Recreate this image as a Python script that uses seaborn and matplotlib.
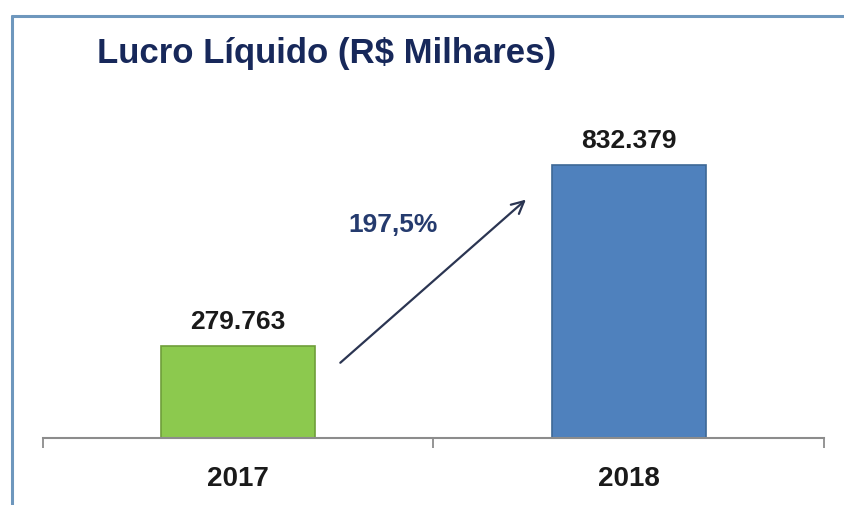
import numpy as np
import matplotlib
matplotlib.use("Agg")
import matplotlib.pyplot as plt
from matplotlib.lines import Line2D
import pandas as pd
import seaborn as sns

# data
YEARS = ["2017", "2018"]
VALUES = [279763, 832379]
BAR_COLORS = ["#8CC94E", "#4F81BD"]
EDGE_COLORS = ["#6f9e3a", "#3d6896"]
TITLE = "Lucro Líquido (R$ Milhares)"

sns.set_theme(style="white")
plt.rcParams["font.family"] = ["Liberation Sans", "DejaVu Sans"]

df = pd.DataFrame({"ano": YEARS, "lucro": VALUES})

fig = plt.figure(figsize=(8.45, 5.05), dpi=100)
fig.patch.set_facecolor("white")
ax = fig.add_axes([43 / 845, 1 - 438 / 505, 781 / 845, 338 / 505])

sns.barplot(data=df, x="ano", y="lucro", hue="ano", palette=BAR_COLORS,
            width=0.395, legend=False, ax=ax, saturation=1)
ax.set_xlim(-0.5, 1.5)
ax.set_ylim(0, VALUES[1] * 338 / 273)

# darker rim, like the shaded bars in the original
for cont, ec in zip(ax.containers, EDGE_COLORS):
    for patch in cont:
        patch.set_edgecolor(ec)
        patch.set_linewidth(1.2)

# value labels above the bars
for cont in ax.containers:
    ax.bar_label(cont, labels=[f"{int(v):,}".replace(",", ".") for v in cont.datavalues],
                 padding=9, fontsize=19, fontweight="bold", color="#1a1a1a")

# axis styling: only the base line, ticks between categories
for s in ["top", "right", "left"]:
    ax.spines[s].set_visible(False)
ax.spines["bottom"].set_color("#8c8c8c")
ax.spines["bottom"].set_linewidth(1.5)
ax.set_yticks([])
ax.set_xlabel("")
ax.set_ylabel("")
ax.set_xticks([-0.5, 0.5, 1.5], minor=True)
ax.tick_params(axis="x", which="minor", length=7.5, width=1.3, color="#8c8c8c",
               direction="out", bottom=True)
ax.tick_params(axis="x", which="major", length=0, pad=20)
for lbl in ax.get_xticklabels():
    lbl.set_fontsize(20)
    lbl.set_fontweight("bold")
    lbl.set_color("#1a1a1a")
ax.grid(False)

# growth arrow and label
growth = (VALUES[1] / VALUES[0] - 1) * 100
ax.annotate("", xy=(0.742, VALUES[1] * 0.88), xytext=(0.256, VALUES[0] * 0.80),
            arrowprops=dict(arrowstyle="->", color="#2b3552", lw=1.6,
                            mutation_scale=22))
ax.text(0.396, VALUES[1] * 0.78, f"{growth:.1f}%".replace(".", ","),
        ha="center", va="center", fontsize=19, fontweight="bold", color="#253b6e")

# title
fig.text(97 / 845, 1 - 53 / 505, TITLE, ha="left", va="center",
         fontsize=25, fontweight="bold", color="#17285a")

# light blue frame (top and left)
fig.add_artist(Line2D([12 / 845, 12 / 845], [0, 1 - 16 / 505],
                      transform=fig.transFigure, color="#6e97bd", lw=2.2))
fig.add_artist(Line2D([12 / 845, 1], [1 - 16 / 505, 1 - 16 / 505],
                      transform=fig.transFigure, color="#6e97bd", lw=2.2))

fig.savefig("out.png", dpi=100)
